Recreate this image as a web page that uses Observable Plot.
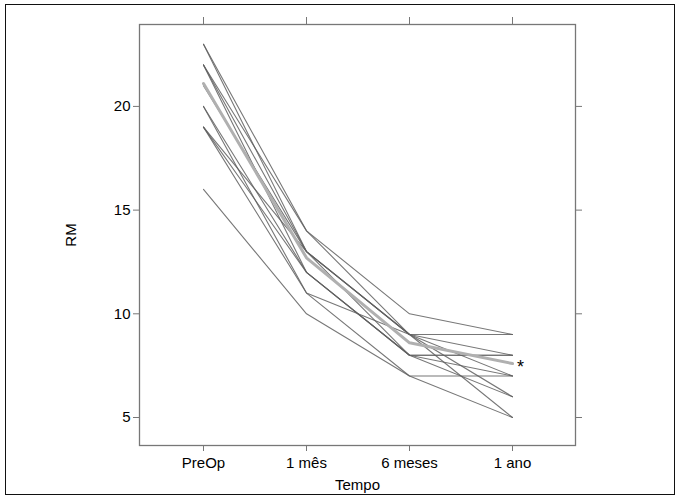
<!DOCTYPE html>
<html>
<head>
<meta charset="utf-8">
<script src="https://cdn.jsdelivr.net/npm/d3@7"></script>
<script src="https://cdn.jsdelivr.net/npm/@observablehq/plot@0.6"></script>
<style>
  html, body { margin: 0; padding: 0; background: #fff; }
  #wrap { position: relative; width: 680px; height: 499px; }
  #border { position: absolute; left: 5px; top: 4px; width: 668px; height: 489px; border: 1.5px solid #111; pointer-events: none; }
</style>
</head>
<body>
<div id="wrap"><div id="border"></div></div>
<script>
// Time points (x categories)
const times = ["PreOp", "1 mês", "6 meses", "1 ano"];
// Per-patient RM values at each time point (index = patient)
const preOp  = [23, 23, 22, 22, 22, 21, 20, 20, 19, 19, 19, 16];
const mes1   = [14, 13, 14, 13, 12, 13, 12, 11, 12, 11, 13, 10];
const meses6 = [10,  9,  9,  9,  8,  9,  8,  9,  8,  7,  8,  7];
const ano1   = [ 9,  8,  6,  9,  8,  7,  8,  5,  7,  7,  6,  5];
// Mean trajectory (thick gray line)
const meanValues = [21.1, 12.7, 8.6, 7.6];
const yTicks = [5, 10, 15, 20];

const series = [preOp, mes1, meses6, ano1];
const data = [];
preOp.forEach((_, i) => {
  series.forEach((s, t) => data.push({id: i, time: times[t], value: s[i]}));
});
const meanData = meanValues.map((v, t) => ({time: times[t], value: v}));

const chart = Plot.plot({
  width: 680,
  height: 499,
  marginLeft: 139,
  marginRight: 105,
  marginTop: 24,
  marginBottom: 54,
  style: {fontFamily: "'Liberation Sans', Arial, sans-serif", fontSize: "15px", color: "#000", background: "transparent"},
  x: {type: "point", domain: times, padding: 0.6},
  y: {domain: [3.65, 23.95]},
  marks: [
    Plot.frame({stroke: "#777", strokeWidth: 1.3}),
    Plot.axisX({anchor: "bottom", tickSize: 6, tickPadding: 6, stroke: "#777", fill: "#000",
      label: "Tempo", labelAnchor: "center", labelArrow: "none", labelOffset: 44}),
    Plot.axisX({anchor: "top", tickSize: 8, stroke: "#777", tickFormat: () => "", label: null}),
    Plot.axisY({anchor: "left", ticks: yTicks, tickSize: 6, tickPadding: 3, stroke: "#777", fill: "#000",
      label: "RM", labelAnchor: "center", labelArrow: "none", labelOffset: 74}),
    Plot.axisY({anchor: "right", ticks: yTicks, tickSize: 6, stroke: "#777", tickFormat: () => "", label: null}),
    Plot.line(data, {x: "time", y: "value", z: "id", stroke: "#5f5f5f", strokeWidth: 1.1, strokeOpacity: 0.85}),
    Plot.line(meanData, {x: "time", y: "value", stroke: "#b0b0b0", strokeWidth: 3}),
    Plot.text([meanData[meanData.length - 1]], {x: "time", y: "value", text: () => "*", dx: 8, dy: 4, fontSize: 18, fill: "#000"})
  ]
});
document.getElementById("wrap").appendChild(chart);
chart.style.position = "absolute";
chart.style.left = "0";
chart.style.top = "0";
</script>
</body>
</html>
